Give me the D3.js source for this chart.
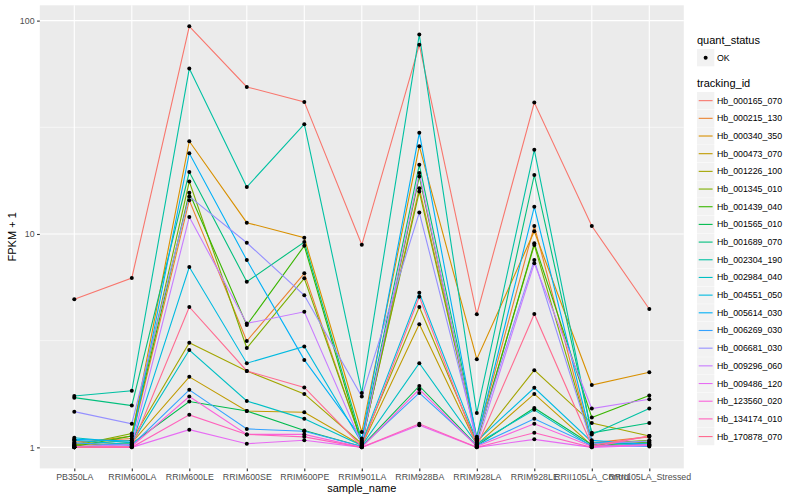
<!DOCTYPE html>
<html>
<head>
<meta charset="utf-8">
<script src="https://cdn.jsdelivr.net/npm/d3@7"></script>
<style>
  body { margin: 0; background: #fff; }
  text { font-family: "Liberation Sans", Arial, sans-serif; }
</style>
</head>
<body>
<svg id="chart" width="800" height="500"></svg>
<script>
// sample names on the x axis
const samples = ["PB350LA", "RRIM600LA", "RRIM600LE", "RRIM600SE", "RRIM600PE", "RRIM901LA",
  "RRIM928BA", "RRIM928LA", "RRIM928LE", "RRII105LA_Control", "RRII105LA_Stressed"];

// FPKM + 1, one array per tracking_id
const hb_000165_070 = [4.94, 6.22, 94, 48.9, 41.6, 8.9, 77, 4.2, 41.3, 10.9, 4.45];
const hb_000215_130 = [1.06, 1.10, 14.4, 3.15, 6.54, 1.05, 16.4, 1.10, 10.9, 1.05, 1.12];
const hb_000340_350 = [1.04, 1.13, 27.2, 11.3, 9.6, 1.18, 25.8, 2.59, 10.3, 1.96, 2.25];
const hb_000473_070 = [1.02, 1.05, 2.14, 1.48, 1.46, 1.02, 3.78, 1.03, 1.78, 1.02, 1.06];
const hb_001226_100 = [1.03, 1.08, 3.09, 2.28, 1.78, 1.04, 4.55, 1.05, 2.30, 1.30, 1.13];
const hb_001345_010 = [1.02, 1.16, 17.6, 2.92, 6.2, 1.06, 15.8, 1.08, 8.88, 1.04, 1.08];
const hb_001439_040 = [1.01, 1.13, 15.6, 3.74, 8.8, 1.03, 18.6, 1.06, 9.04, 1.38, 1.75];
const hb_001565_010 = [1.00, 1.04, 1.64, 1.48, 1.20, 1.01, 1.94, 1.02, 1.53, 1.03, 1.05];
const hb_001689_070 = [1.71, 1.57, 19.5, 5.97, 9.17, 1.08, 21.1, 1.12, 18.9, 1.17, 1.30];
const hb_002304_190 = [1.74, 1.84, 59.6, 16.6, 32.7, 1.80, 86, 1.45, 24.8, 1.15, 1.52];
const hb_002984_040 = [1.11, 1.05, 2.86, 1.65, 1.36, 1.02, 2.48, 1.04, 1.50, 1.01, 1.04];
const hb_004551_050 = [1.08, 1.03, 7.0, 2.48, 2.97, 1.05, 5.3, 1.07, 1.90, 1.06, 1.02];
const hb_005614_030 = [1.09, 1.07, 23.9, 7.55, 2.57, 1.10, 29.8, 1.09, 13.4, 1.08, 1.03];
const hb_006269_030 = [1.05, 1.02, 1.86, 1.22, 1.19, 1.01, 1.80, 1.02, 1.36, 1.02, 1.01];
const hb_006681_030 = [1.47, 1.29, 15.0, 9.1, 5.16, 1.73, 12.6, 1.10, 7.55, 1.04, 1.07];
const hb_009296_060 = [1.01, 1.03, 12.0, 3.81, 4.32, 1.04, 19.3, 1.03, 7.29, 1.52, 1.68];
const hb_009486_120 = [1.00, 1.00, 1.21, 1.04, 1.08, 1.00, 1.27, 1.00, 1.09, 1.00, 1.02];
const hb_123560_020 = [1.00, 1.01, 1.73, 1.15, 1.15, 1.00, 1.87, 1.01, 1.29, 1.01, 1.03];
const hb_134174_010 = [1.00, 1.00, 1.42, 1.15, 1.12, 1.00, 1.29, 1.00, 1.17, 1.00, 1.13];
const hb_170878_070 = [1.00, 1.01, 4.55, 2.28, 1.91, 1.01, 5.08, 1.01, 4.22, 1.02, 1.13];

const trackingIds = ["Hb_000165_070", "Hb_000215_130", "Hb_000340_350", "Hb_000473_070",
  "Hb_001226_100", "Hb_001345_010", "Hb_001439_040", "Hb_001565_010", "Hb_001689_070",
  "Hb_002304_190", "Hb_002984_040", "Hb_004551_050", "Hb_005614_030", "Hb_006269_030",
  "Hb_006681_030", "Hb_009296_060", "Hb_009486_120", "Hb_123560_020", "Hb_134174_010",
  "Hb_170878_070"];
const seriesValues = [hb_000165_070, hb_000215_130, hb_000340_350, hb_000473_070,
  hb_001226_100, hb_001345_010, hb_001439_040, hb_001565_010, hb_001689_070,
  hb_002304_190, hb_002984_040, hb_004551_050, hb_005614_030, hb_006269_030,
  hb_006681_030, hb_009296_060, hb_009486_120, hb_123560_020, hb_134174_010,
  hb_170878_070];

const yTicks = [1, 10, 100];
const yMinor = [Math.sqrt(10), Math.sqrt(1000)];

// ggplot default hue palette for 20 levels
const hueColors = ["#F8766D", "#EA8331", "#D89000", "#C09B00", "#A3A500", "#7CAE00",
  "#39B600", "#00BB4E", "#00BF7D", "#00C1A3", "#00BFC4", "#00BAE0", "#00B0F6",
  "#35A2FF", "#9590FF", "#C77CFF", "#E76BF3", "#FA62DB", "#FF62BC", "#FF6C91"];

const series = trackingIds.map((id, i) => ({
  id: id,
  values: seriesValues[i].map((v, j) => ({ sample: samples[j], value: v }))
}));

const panel = { left: 39.8, right: 683.8, top: 5.3, bottom: 468.4 };

const svg = d3.select("#chart");

const x = d3.scalePoint()
  .domain(samples)
  .range([panel.left, panel.right])
  .padding(0.6);

// log scale with ggplot's 5% expansion in log space
const allVals = seriesValues.flat();
const lo = Math.log10(d3.min(allVals)), hi = Math.log10(d3.max(allVals));
const pad = (hi - lo) * 0.05;
const y = d3.scaleLog()
  .domain([Math.pow(10, lo - pad), Math.pow(10, hi + pad)])
  .range([panel.bottom, panel.top]);

const color = d3.scaleOrdinal().domain(trackingIds).range(hueColors);

// panel background
svg.append("rect")
  .attr("x", panel.left).attr("y", panel.top)
  .attr("width", panel.right - panel.left)
  .attr("height", panel.bottom - panel.top)
  .attr("fill", "#EBEBEB");

// grid lines
svg.append("g").selectAll("line")
  .data(yMinor)
  .join("line")
  .attr("x1", panel.left).attr("x2", panel.right)
  .attr("y1", d => y(d)).attr("y2", d => y(d))
  .attr("stroke", "#fff").attr("stroke-width", 0.55);

svg.append("g").selectAll("line")
  .data(yTicks)
  .join("line")
  .attr("x1", panel.left).attr("x2", panel.right)
  .attr("y1", d => y(d)).attr("y2", d => y(d))
  .attr("stroke", "#fff").attr("stroke-width", 1.1);

svg.append("g").selectAll("line")
  .data(samples)
  .join("line")
  .attr("x1", d => x(d)).attr("x2", d => x(d))
  .attr("y1", panel.top).attr("y2", panel.bottom)
  .attr("stroke", "#fff").attr("stroke-width", 1.1);

// lines
const line = d3.line()
  .x(d => x(d.sample))
  .y(d => y(d.value));

svg.append("g").selectAll("path")
  .data(series)
  .join("path")
  .attr("d", d => line(d.values))
  .attr("fill", "none")
  .attr("stroke", d => color(d.id))
  .attr("stroke-width", 1.1);

// points
svg.append("g").selectAll("circle")
  .data(series.flatMap(s => s.values))
  .join("circle")
  .attr("cx", d => x(d.sample))
  .attr("cy", d => y(d.value))
  .attr("r", 2)
  .attr("fill", "#000");

// axes
const xAxis = svg.append("g")
  .attr("transform", `translate(0,${panel.bottom})`)
  .call(d3.axisBottom(x).tickSize(2.75).tickPadding(2.5));
const yAxis = svg.append("g")
  .attr("transform", `translate(${panel.left},0)`)
  .call(d3.axisLeft(y).tickValues(yTicks).tickFormat(d3.format("d")).tickSize(2.75).tickPadding(2.5));

[xAxis, yAxis].forEach(a => {
  a.select(".domain").remove();
  a.selectAll(".tick line").attr("stroke", "#333333").attr("stroke-width", 1.1);
  a.selectAll(".tick text")
    .attr("fill", "#4D4D4D")
    .style("font-size", "8.8px")
    .style("font-family", "'Liberation Sans', Arial, sans-serif");
});

// axis titles
svg.append("text")
  .attr("x", (panel.left + panel.right) / 2)
  .attr("y", 492)
  .attr("text-anchor", "middle")
  .style("font-size", "11px")
  .text("sample_name");

svg.append("text")
  .attr("transform", `translate(16,${(panel.top + panel.bottom) / 2}) rotate(-90)`)
  .attr("text-anchor", "middle")
  .style("font-size", "11px")
  .text("FPKM + 1");

// legends
const legX = 697, keySize = 17.3, labelX = 717;

svg.append("text")
  .attr("x", legX).attr("y", 44)
  .style("font-size", "11px")
  .text("quant_status");
svg.append("rect")
  .attr("x", legX).attr("y", 49).attr("width", keySize).attr("height", keySize)
  .attr("fill", "#F2F2F2");
svg.append("circle")
  .attr("cx", legX + keySize / 2).attr("cy", 49 + keySize / 2).attr("r", 2)
  .attr("fill", "#000");
svg.append("text")
  .attr("x", labelX).attr("y", 49 + keySize / 2 + 3)
  .style("font-size", "8.8px")
  .text("OK");

svg.append("text")
  .attr("x", legX).attr("y", 87)
  .style("font-size", "11px")
  .text("tracking_id");

const keyStep = 17.68, keyTop = 92;
const keys = svg.append("g").selectAll("g")
  .data(trackingIds)
  .join("g")
  .attr("transform", (d, i) => `translate(${legX},${keyTop + i * keyStep})`);

keys.append("rect")
  .attr("width", keySize).attr("height", keySize)
  .attr("fill", "#F2F2F2");
keys.append("line")
  .attr("x1", 1.7).attr("x2", keySize - 1.7)
  .attr("y1", keySize / 2).attr("y2", keySize / 2)
  .attr("stroke", d => color(d))
  .attr("stroke-width", 1.1);
keys.append("text")
  .attr("x", labelX - legX).attr("y", keySize / 2 + 3)
  .style("font-size", "8.8px")
  .text(d => d);
</script>
</body>
</html>
